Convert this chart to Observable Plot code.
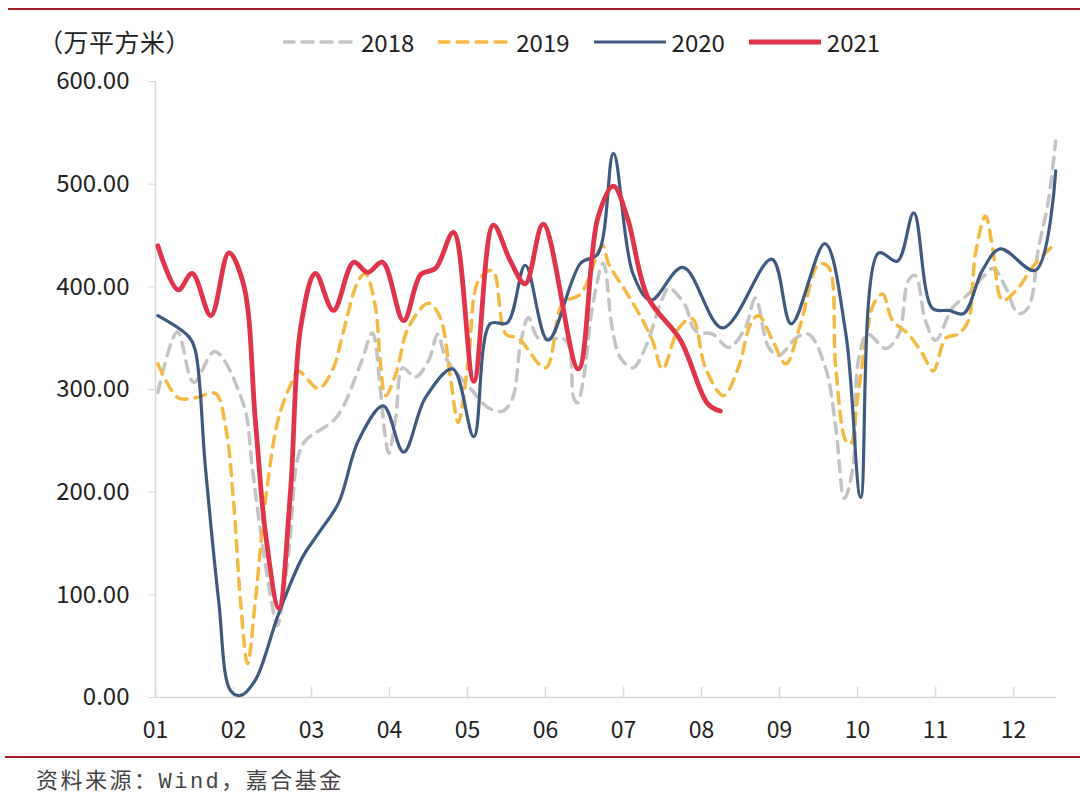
<!DOCTYPE html>
<html><head><meta charset="utf-8">
<script src="https://cdn.jsdelivr.net/npm/d3@7"></script>
<script src="https://cdn.jsdelivr.net/npm/@observablehq/plot@0.6"></script>
<style>
body{margin:0;background:#fff;}
#wrap{position:relative;width:1080px;height:797px;overflow:hidden;font-family:"Noto Sans CJK SC","Noto Sans",sans-serif;color:#222;}
.redline{position:absolute;right:0;height:2px;background:#a61c27;}
#chart{position:absolute;left:0;top:60px;}
#unit{position:absolute;left:38px;top:23px;font-size:25px;line-height:36px;letter-spacing:0.5px;}
#legend{position:absolute;left:283px;top:24px;height:36px;display:flex;align-items:center;}
.item{display:flex;align-items:center;margin-right:24px;font-size:24px;line-height:36px;}
.item svg{margin-right:6px;}
#footer{position:absolute;left:36px;top:768px;font-family:"Liberation Mono","Noto Sans CJK SC",monospace;font-size:22px;letter-spacing:2.5px;color:#444;line-height:30px;}
</style></head>
<body>
<div id="wrap">
  <div class="redline" style="top:8px;left:8px;"></div>
  <div id="unit">（万平方米）</div>
  <div id="legend"></div>
  <div id="chart"></div>
  <div class="redline" style="top:756px;left:5px;"></div>
  <div id="footer">资料来源：Wind，嘉合基金</div>
</div>
<script>
// ---- data (x = position in months, 1 = "01") ----
const monthTicks = [1,2,3,4,5,6,7,8,9,10,11,12];
const monthLabels = ["01","02","03","04","05","06","07","08","09","10","11","12"];
const yTicks = [0,100,200,300,400,500,600];
const years = ["2018","2019","2020","2021"];
const colors = ["#c3c3c3","#f4b942","#3f5a80","#e0344a"];

const x2018 = [1.03,1.28,1.49,1.76,2.13,2.24,2.35,2.50,2.56,2.71,2.82,2.92,3.32,3.63,3.78,3.88,3.94,3.99,4.08,4.17,4.33,4.50,4.62,4.72,5.06,5.27,5.45,5.58,5.68,5.78,5.91,6.26,6.36,6.41,6.49,6.60,6.74,6.86,6.96,7.12,7.28,7.50,7.58,7.79,7.92,8.14,8.35,8.56,8.69,8.86,8.99,9.21,9.37,9.59,9.72,9.83,9.94,10.01,10.13,10.36,10.53,10.65,10.74,10.87,11.00,11.22,11.42,11.60,11.74,11.90,12.06,12.19,12.32,12.44,12.54];
const v2018 = [297,356,307,337,285,224,160,88,70,143,232,250,273,325,355,302,257,238,273,321,312,328,354,331,299,282,279,292,345,370,350,348,292,287,312,380,423,357,331,321,341,389,399,382,357,354,341,360,389,341,333,350,354,321,263,194,224,328,354,340,354,406,411,367,348,380,393,409,418,399,374,380,438,481,542];

const x2019 = [1.03,1.29,1.51,1.77,1.90,2.00,2.09,2.18,2.28,2.41,2.58,2.76,2.83,3.09,3.28,3.40,3.60,3.69,3.82,3.88,3.95,4.08,4.24,4.50,4.65,4.78,4.88,5.01,5.14,5.32,5.49,5.65,6.00,6.22,6.45,6.73,6.81,7.00,7.19,7.37,7.50,7.71,7.88,8.05,8.28,8.47,8.63,8.73,8.91,9.08,9.27,9.50,9.63,9.72,9.85,9.91,10.00,10.13,10.21,10.32,10.45,10.65,10.83,10.97,11.13,11.29,11.42,11.51,11.64,11.73,11.86,12.06,12.24,12.54];
const v2019 = [325,292,292,296,263,192,94,33,94,192,273,309,318,301,321,354,406,413,380,328,294,315,360,384,370,312,268,328,406,416,354,350,321,384,393,440,422,399,375,348,320,360,369,321,294,321,364,372,348,325,364,422,419,321,250,247,292,360,384,393,367,354,335,318,350,354,367,432,469,438,387,399,419,443];

const x2020 = [1.03,1.42,1.51,1.64,1.81,1.96,2.09,2.28,2.58,2.88,3.09,3.35,3.60,3.92,4.18,4.46,4.81,5.08,5.29,5.51,5.74,6.03,6.45,6.67,6.87,7.12,7.35,7.76,8.27,8.90,9.15,9.58,9.85,10.04,10.27,10.51,10.72,10.96,11.17,11.36,11.60,11.83,12.28,12.54];
const v2020 = [372,352,338,224,94,7,2,17,82,136,160,190,250,284,239,292,320,254,364,365,421,348,423,432,530,413,387,419,360,427,364,442,354,195,433,425,472,379,377,374,416,437,416,513];

const x2021 = [1.03,1.29,1.47,1.71,1.94,2.13,2.28,2.41,2.58,2.73,2.86,3.05,3.28,3.54,3.72,3.91,4.18,4.40,4.59,4.82,5.08,5.33,5.55,5.74,5.97,6.42,6.67,6.87,7.05,7.31,7.73,8.08,8.24];
const v2021 = [440,397,413,372,433,402,270,160,87,200,360,413,377,424,414,424,367,412,418,453,308,460,425,403,461,320,467,498,467,390,348,286,279];

const series = [[x2018,v2018],[x2019,v2019],[x2020,v2020],[x2021,v2021]];
const widths = [3.5,3.5,3.2,4.8];
const dashes = ["11,8","11,8",null,null];

const rows = series.map(([xs,vs],k)=>xs.map((x,i)=>({x, v: vs[i], year: years[k]})));

const font = '"Noto Sans CJK SC","Noto Sans",sans-serif';
const chart = Plot.plot({
  width: 1080, height: 700,
  marginTop: 21, marginBottom: 63, marginLeft: 155, marginRight: 24,
  x: {domain: [1, 12.55], axis: null},
  y: {domain: [0, 600], axis: null},
  style: {fontFamily: font, background: "transparent", overflow: "visible"},
  marks: [
    Plot.ruleY([0], {stroke: "#d9d9d9", strokeWidth: 1.5}),
    Plot.ruleX([1], {y1: 0, y2: 600, stroke: "#d9d9d9", strokeWidth: 1.5}),
    Plot.ruleX(monthTicks, {x: d=>d, y1: 0, y2: 0, insetBottom: 10, stroke: "#d9d9d9", strokeWidth: 1.5}),
    Plot.axisY({ticks: yTicks, tickFormat: d=>d.toFixed(2), tickSize: 7, tickPadding: 19, stroke: "#d9d9d9", fill: "#222", fontSize: 24, label: null}),
    Plot.axisX({ticks: monthTicks, tickFormat: d=>monthLabels[d-1], tickSize: 0, tickPadding: 24, fill: "#222", fontSize: 23, label: null}),
    ...rows.map((r,k)=>Plot.line(r, {x:"x", y:"v", stroke: colors[k], strokeWidth: widths[k], strokeDasharray: dashes[k] ?? undefined, curve: "catmull-rom"}))
  ]
});
document.getElementById("chart").appendChild(chart);

// legend
const lg = document.getElementById("legend");
years.forEach((y,k)=>{
  const it = document.createElement("div"); it.className = "item";
  const dash = dashes[k] ? `stroke-dasharray="${dashes[k].replace(',', ' ')}"` : "";
  it.innerHTML = `<svg width="72" height="10"><line x1="0" y1="5" x2="72" y2="5" stroke="${colors[k]}" stroke-width="${widths[k]}" ${dash} stroke-linecap="round"/></svg><span>${y}</span>`;
  lg.appendChild(it);
});
</script>
</body></html>
